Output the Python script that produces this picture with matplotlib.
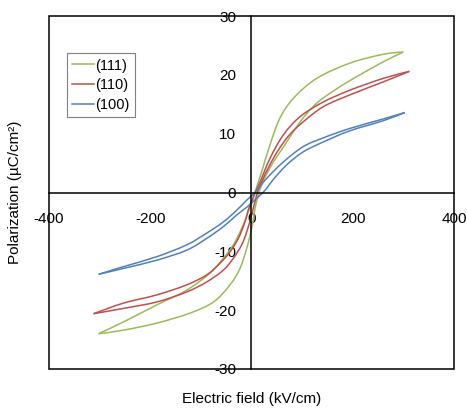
import matplotlib.pyplot as plt
from matplotlib.patches import Rectangle, PathPatch
from matplotlib.path import Path
from matplotlib.lines import Line2D

plt.rcParams['font.family'] = ['Liberation Sans', 'DejaVu Sans']
plt.rcParams['axes.unicode_minus'] = False

# (111) loop: upper branch goes +E -> -E, lower goes -E -> +E
e111_up = [300, 260, 194.5, 128.7, 82.6, 56, 36.5, 20, 7, 3.6, -6.3, -19.4, -36, -55.7, -82, -128, -187, -253, -302]
p111_up = [23.9, 23.5, 22.0, 19.4, 16.0, 12.6, 8.1, 3.5, 0.1, -1.0, -3.3, -6.1, -8.9, -11.2, -13.7, -16.6, -19.1, -22.0, -24.0]
e111_lo = [-302, -253, -187, -121.5, -75, -42.5, -22.7, -9.5, 0.4, 7, 15, 25, 42, 62, 96, 129, 175, 214, 260, 300]
p111_lo = [-24.0, -23.4, -22.2, -20.5, -18.6, -15.7, -12.9, -9.5, -6.1, -2.7, 0.0, 2.3, 5.0, 7.6, 12.0, 15.2, 18.0, 20.0, 22.2, 23.9]

# (110)
e110_up = [312, 260, 194.5, 142, 96, 63, 36.5, 17, -3, -13, -26, -42.5, -62, -88.5, -128, -187, -253, -312]
p110_up = [20.6, 19.4, 17.4, 15.4, 12.9, 9.8, 5.8, 1.8, -2.1, -5.0, -7.8, -10.1, -12.0, -14.0, -15.7, -17.4, -18.8, -20.6]
e110_lo = [-312, -253, -187, -128, -88.5, -55.7, -36, -19.4, -9.5, 0.4, 10, 19, 35, 53, 75, 102, 142, 194.5, 260, 312]
p110_lo = [-20.6, -19.7, -18.6, -16.9, -15.2, -13.2, -11.2, -8.9, -6.7, -3.8, -0.5, 1.6, 4.5, 7.2, 9.8, 12.0, 14.6, 16.6, 18.8, 20.6]

# (100)
e100_up = [303, 260, 194.5, 142, 102, 63, 30, 7, -9.5, -29, -55.7, -88.5, -128, -187, -253, -302]
p100_up = [13.6, 12.5, 10.9, 9.3, 7.8, 5.2, 2.4, 0.0, -1.3, -3.0, -5.0, -6.9, -8.9, -10.9, -12.6, -13.9]
e100_lo = [-302, -253, -187, -128, -88.5, -55.7, -29, -9.5, 10, 27, 43, 69.5, 102, 142, 194.5, 260, 303]
p100_lo = [-13.9, -12.9, -11.5, -9.8, -7.8, -5.8, -3.8, -2.5, -1.0, 0.4, 2.2, 4.7, 6.9, 8.6, 10.5, 12.2, 13.6]

labels = ['(111)', '(110)', '(100)']
colors = ['#9BBB59', '#C0504D', '#4F81BD']
xticks = [-400, -200, 0, 200, 400]
yticks = [-30, -20, -10, 0, 10, 20, 30]

loops = [[(e111_up, p111_up), (e111_lo, p111_lo)],
         [(e110_up, p110_up), (e110_lo, p110_lo)],
         [(e100_up, p100_up), (e100_lo, p100_lo)]]


def smooth_path(xs, ys):
    # Excel-style smoothed line: cubic bezier pieces through the read points
    pts = list(zip(xs, ys))
    pad = [pts[0]] + pts + [pts[-1]]
    verts = [pts[0]]
    codes = [Path.MOVETO]
    for i in range(1, len(pad) - 2):
        p0, p1, p2, p3 = pad[i - 1], pad[i], pad[i + 1], pad[i + 2]
        c1 = (p1[0] + (p2[0] - p0[0]) / 6, p1[1] + (p2[1] - p0[1]) / 6)
        c2 = (p2[0] - (p3[0] - p1[0]) / 6, p2[1] - (p3[1] - p1[1]) / 6)
        verts += [c1, c2, p2]
        codes += [Path.CURVE4] * 3
    return Path(verts, codes)


fig = plt.figure(figsize=(4.67, 4.08), dpi=100)
ax = fig.add_axes([0.105, 0.0956, 0.867, 0.865])

handles = []
for branches, lab, col in zip(loops, labels, colors):
    for e, p in branches:
        ax.add_patch(PathPatch(smooth_path(e, p), fill=False, ec=col, lw=1.1, zorder=2))
    handles.append(Line2D([], [], color=col, lw=1.1, label=lab))

ax.set_xlim(-400, 400)
ax.set_ylim(-30, 30)
ax.set_xticks(xticks)
ax.set_yticks(yticks)

# axes cross at the origin, box drawn round the plot
ax.spines['left'].set_position(('data', 0))
ax.spines['bottom'].set_position(('data', 0))
for s in ['top', 'right']:
    ax.spines[s].set_visible(False)
for s in ['left', 'bottom']:
    ax.spines[s].set_linewidth(1.1)
ax.add_patch(Rectangle((0, 0), 1, 1, transform=ax.transAxes, fill=False,
                       lw=1.1, ec='black', clip_on=False, zorder=3))

ax.tick_params(axis='x', length=0, pad=14, labelsize=11)
ax.tick_params(axis='y', length=0, pad=11, labelsize=11)

ax.set_xlabel('Electric field (kV/cm)', fontsize=11)
ax.set_ylabel('Polarization (µC/cm²)', fontsize=11)
ax.xaxis.set_label_coords(0.5, -0.066)
ax.yaxis.set_label_coords(-0.067, 0.5)

leg = ax.legend(handles=handles, loc='upper left', bbox_to_anchor=(0.044, 0.894),
                borderaxespad=0, fontsize=10.5, handlelength=1.5, handletextpad=0.1,
                labelspacing=0.4, borderpad=0.35, fancybox=False, framealpha=1)
leg.get_frame().set_edgecolor('#808080')
leg.get_frame().set_linewidth(0.8)

fig.savefig('out.png', dpi=100)
